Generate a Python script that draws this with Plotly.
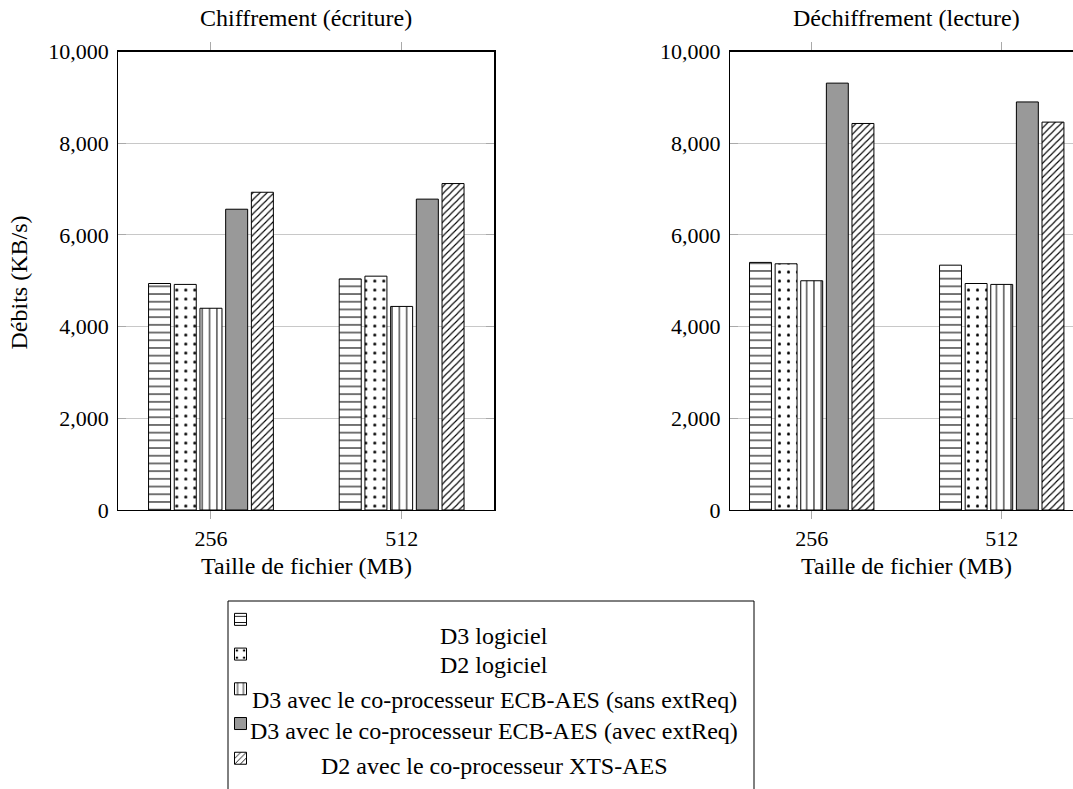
import plotly.graph_objects as go

W, H = 1073, 789

sizes = ["256", "512"]
series_names = [
    "D3 logiciel",
    "D2 logiciel",
    "D3 avec le co-processeur ECB-AES (sans extReq)",
    "D3 avec le co-processeur ECB-AES (avec extReq)",
    "D2 avec le co-processeur XTS-AES",
]
# Débits (KB/s) - Chiffrement (écriture)
ecriture = [
    [4940, 5040],
    [4920, 5100],
    [4400, 4440],
    [6560, 6780],
    [6930, 7120],
]
# Débits (KB/s) - Déchiffrement (lecture)
lecture = [
    [5400, 5340],
    [5370, 4940],
    [5000, 4920],
    [9310, 8900],
    [8430, 8460],
]
y_ticks = [0, 2000, 4000, 6000, 8000, 10000]

FONT = "Liberation Serif"
TXT = 24
styles = [
    dict(color="white", pattern=dict(shape="-", size=7.7, solidity=0.14, fgcolor="black", bgcolor="white", fillmode="replace")),
    dict(color="white", pattern=dict(shape=".", size=9, solidity=0.09, fgcolor="black", bgcolor="white", fillmode="replace")),
    dict(color="white", pattern=dict(shape="|", size=7.3, solidity=0.14, fgcolor="black", bgcolor="white", fillmode="replace")),
    dict(color="#999999"),
    dict(color="white", pattern=dict(shape="/", size=5, solidity=0.22, fgcolor="black", bgcolor="white", fillmode="replace")),
]

# page pixel -> paper fraction
def X(px):
    return px / W

def Y(py):
    return 1 - py / H

fig = go.Figure()
for i, name in enumerate(series_names):
    st = styles[i]
    fig.add_trace(go.Bar(
        x=sizes, y=ecriture[i], name=" ", legendgroup=str(i), showlegend=True,
        marker=dict(line=dict(color="black", width=1), **st),
        xaxis="x", yaxis="y",
    ))
    fig.add_trace(go.Bar(
        x=sizes, y=lecture[i], name=" ", legendgroup=str(i), showlegend=False,
        marker=dict(line=dict(color="black", width=1), **st),
        xaxis="x2", yaxis="y2",
    ))

x_common = dict(type="category", showline=True, linecolor="black", linewidth=1.2,
                mirror="ticks", ticks="outside", ticklen=8, tickcolor="#aaaaaa", tickwidth=1,
                tickfont=dict(family=FONT, size=22, color="black"), showgrid=False, zeroline=False,
                fixedrange=True, automargin=False)
y_common = dict(range=[0, 10000], tickvals=y_ticks, tickformat=",", showline=True,
                linecolor="black", linewidth=1.2, ticks="inside", ticklen=8,
                tickcolor="#aaaaaa", tickwidth=1, showgrid=True, gridcolor="#c8c8c8",
                gridwidth=1, zeroline=False, ticklabelstandoff=4, automargin=False,
                fixedrange=True, tickfont=dict(family=FONT, size=22, color="black"))

fig.update_layout(
    width=W, height=H,
    margin=dict(l=0, r=0, t=0, b=0, pad=0, autoexpand=False),
    paper_bgcolor="white", plot_bgcolor="white",
    barmode="group", bargap=0.326, bargroupgap=0.144,
    xaxis=dict(domain=[X(118.3), X(494.3)], range=[-0.486, 1.486], anchor="y", **x_common),
    yaxis=dict(domain=[Y(510), Y(51.5)], anchor="x", mirror="ticks", **y_common),
    xaxis2=dict(domain=[X(730), 1.0], range=[-0.43, 1.375], anchor="y2", **x_common),
    yaxis2=dict(domain=[Y(510), Y(51.5)], anchor="x2", mirror=False, **y_common),
    showlegend=True,
    hovermode=False,
    legend=dict(x=X(220.5), y=Y(597), xanchor="left", yanchor="top",
                bgcolor="rgba(0,0,0,0)", borderwidth=0, itemwidth=30,
                font=dict(family=FONT, size=24.4, color="black"),
                tracegroupgap=0, traceorder="normal", itemclick=False, itemdoubleclick=False),
    font=dict(family=FONT, color="black"),
)

ann = []
def add_text(text, px, py, angle=0):
    ann.append(dict(text=text, x=X(px), y=Y(py), xref="paper", yref="paper",
                    showarrow=False, xanchor="center", yanchor="middle", textangle=angle,
                    font=dict(family=FONT, size=TXT, color="black")))

add_text("Chiffrement (écriture)", 306.3, 18)
add_text("Déchiffrement (lecture)", 906.5, 18)
add_text("Taille de fichier (MB)", 306.3, 566)
add_text("Taille de fichier (MB)", 906.5, 566)
add_text("Débits (KB/s)", 18.5, 283, -90)
legend_text_y = [636, 665, 700, 731, 766]
for name, ty in zip(series_names, legend_text_y):
    add_text(name, 494, ty)
fig.update_layout(annotations=ann)

fig.add_shape(type="rect", xref="paper", yref="paper", x0=X(228), x1=X(754), y0=Y(601), y1=Y(800),
              line=dict(color="black", width=1), fillcolor="rgba(0,0,0,0)", layer="above")

fig.write_html(
    "out.html",
    config={"displayModeBar": False, "staticPlot": True},
    post_script="document.body.style.margin='0';document.body.style.overflow='hidden';",
)
